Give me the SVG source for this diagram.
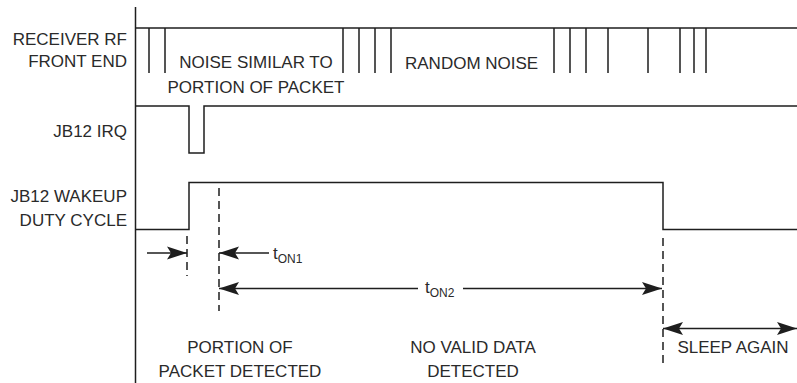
<svg xmlns="http://www.w3.org/2000/svg" width="797" height="383" viewBox="0 0 797 383">
<style>
.ln{fill:none;stroke:#1e1e1e;stroke-width:1.5}
.ds{fill:none;stroke:#1e1e1e;stroke-width:1.5;stroke-dasharray:8 5}
.tx{font-family:"Liberation Sans",Arial,sans-serif;font-size:17px;fill:#2a2a2a}
.r{text-anchor:end}
.m{text-anchor:middle}
.sub{font-size:12px}
</style>
<defs>
<marker id="ah" markerUnits="userSpaceOnUse" markerWidth="22" markerHeight="16" viewBox="-21 -8 22 16" refX="0" refY="0" orient="auto-start-reverse">
<path d="M0,0 L-20,-6.5 L-16,0 L-20,6.5 Z" fill="#1e1e1e"/>
</marker>
</defs>
<rect width="797" height="383" fill="#fff"/>
<g id="axis"><line class="ln" x1="135.5" y1="7" x2="135.5" y2="383"/></g>
<g id="labels">
<text class="tx r" x="127" y="45">RECEIVER RF</text>
<text class="tx r" x="127" y="67">FRONT END</text>
<text class="tx r" x="127" y="137">JB12 IRQ</text>
<text class="tx r" x="127" y="202">JB12 WAKEUP</text>
<text class="tx r" x="127" y="226">DUTY CYCLE</text>
</g>
<g id="rf-signal">
<line class="ln" x1="135" y1="28" x2="797" y2="28"/>
<path class="ln" d="M149,28V73M165,28V73M343,28V73M359,28V73M375,28V73M391,28V73M554,28V73M570,28V73M586,28V73M608,28V73M648,28V73M680,28V73M694,28V73M706,28V73"/>
<text class="tx m" x="256" y="68">NOISE SIMILAR TO</text>
<text class="tx m" x="256" y="93">PORTION OF PACKET</text>
<text class="tx" x="405" y="69">RANDOM NOISE</text>
</g>
<g id="irq-signal">
<path class="ln" d="M135,106H189V153H204V106H797"/>
</g>
<g id="wakeup-signal">
<path class="ln" d="M135,229.5H189V182.5H663V229.5H797"/>
</g>
<g id="markers">
<line class="ds" x1="187" y1="236" x2="187" y2="276"/>
<line class="ds" x1="219" y1="188" x2="219" y2="311"/>
<line class="ds" x1="663" y1="238" x2="663" y2="363"/>
</g>
<g id="connectors">
<line class="ln" x1="147" y1="253" x2="187" y2="253" marker-end="url(#ah)"/>
<line class="ln" x1="269" y1="253" x2="219" y2="253" marker-end="url(#ah)"/>
<line class="ln" x1="219" y1="288.5" x2="418" y2="288.5" marker-start="url(#ah)"/>
<line class="ln" x1="463" y1="288.5" x2="662" y2="288.5" marker-end="url(#ah)"/>
<line class="ln" x1="663" y1="328.5" x2="797" y2="328.5" marker-start="url(#ah)" marker-end="url(#ah)"/>
</g>
<g id="timing-labels">
<text class="tx" x="273" y="259">t<tspan class="sub" dy="4">ON1</tspan></text>
<text class="tx" x="425" y="293">t<tspan class="sub" dy="4">ON2</tspan></text>
</g>
<g id="phase-labels">
<text class="tx m" x="240" y="353">PORTION OF</text>
<text class="tx m" x="240" y="377">PACKET DETECTED</text>
<text class="tx m" x="473" y="353">NO VALID DATA</text>
<text class="tx m" x="473" y="377">DETECTED</text>
<text class="tx m" x="733" y="353">SLEEP AGAIN</text>
</g>
</svg>
